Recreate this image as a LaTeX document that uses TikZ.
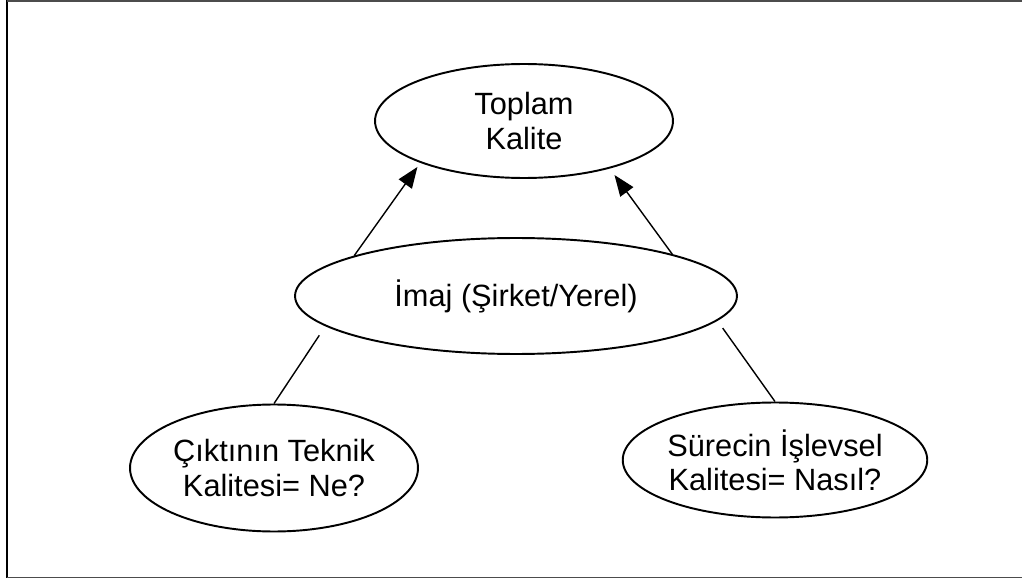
\documentclass[tikz,border=0pt]{standalone}
\usepackage{fontspec}
\setmainfont{Liberation Sans}
\usetikzlibrary{shapes.geometric,arrows.meta}

\begin{document}
\begin{tikzpicture}[x=0.02cm,y=-0.02cm,line width=0.8pt,
	oval/.style={ellipse,draw,line width=1.1pt,inner sep=0pt,align=center,font=\fontsize{17.5}{19.5}\selectfont},
	tip/.style={-{Triangle[length=4.2mm,width=3.2mm]}}]

\useasboundingbox(0,0)rectangle(1022,581);
\draw[line width=1.4pt](7,0)--(7,578);
\draw[gray!60!black,line width=0.6pt](7,1)--(1022,1);
\draw[gray!60!black,line width=1pt](7,577.5)--(1022,577.5);

\node[oval,minimum width=5.96cm,minimum height=2.28cm](top) at (524,121){Toplam\\Kalite};
\node[oval,minimum width=8.84cm,minimum height=2.32cm](img) at (516,296){İmaj (Şirket/Yerel)};
\node[oval,minimum width=5.76cm,minimum height=2.54cm](tek) at (274,468){Çıktının Teknik\\Kalitesi= Ne?};
\node[oval,minimum width=5.72cm,minimum height=2.3cm](sur) at (775,460){Sürecin İşlevsel\\Kalitesi= Nasıl?};

\path[tip](img.166)edge[shorten >=1mm](top.202)
	(img.15)edge[shorten >=1.6mm](top.331);
\path(img.189)edge[shorten <=2.2mm](tek.north)
	(img.353)edge[shorten <=1.8mm](sur.north);

\end{tikzpicture}
\end{document}
